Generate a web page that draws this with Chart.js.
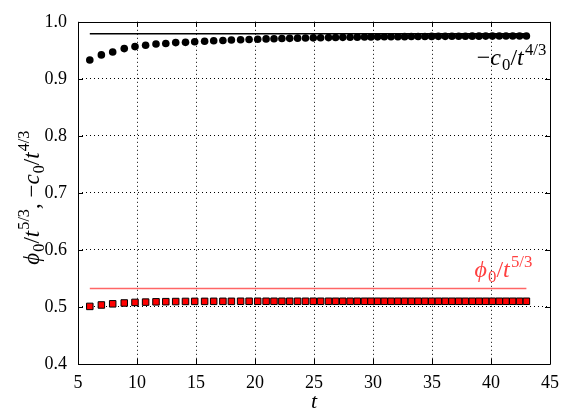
<!DOCTYPE html>
<html>
<head>
<meta charset="utf-8">
<script src="https://cdn.jsdelivr.net/npm/chart.js@4/dist/chart.umd.min.js"></script>
<style>
  body { margin: 0; background: #fff; }
  #wrap { width: 567px; height: 416px; }
</style>
</head>
<body>
<div id="wrap"><canvas id="myChart"></canvas></div>
<script>
// time samples
const tValues = [
  6.0, 6.98, 7.94, 8.92, 9.83, 10.73, 11.61, 12.44, 13.28, 14.11,
  14.89, 15.73, 16.5, 17.28, 18.0, 18.78, 19.5, 20.23, 20.94, 21.61,
  22.28, 22.94, 23.61, 24.28, 24.94, 25.56, 26.23, 26.83, 27.44, 28.06,
  28.67, 29.28, 29.83, 30.39, 30.96, 31.53, 32.11, 32.68, 33.25, 33.82,
  34.4, 34.97, 35.54, 36.12, 36.69, 37.26, 37.83, 38.41, 38.98, 39.55,
  40.12, 40.7, 41.27, 41.84, 42.42, 43.0
];
// -c0 / t^(4/3)
const cValues = [
  0.933, 0.942, 0.947, 0.953, 0.9565, 0.959, 0.961, 0.962, 0.9635, 0.964,
  0.965, 0.966, 0.9667, 0.9673, 0.968, 0.9685, 0.969, 0.9695, 0.970, 0.9703,
  0.9707, 0.971, 0.9713, 0.9716, 0.9719, 0.9721, 0.9723, 0.9725, 0.9727, 0.9729,
  0.9731, 0.9733, 0.9734, 0.9736, 0.9737, 0.9738, 0.9739, 0.974, 0.9741, 0.9742,
  0.9743, 0.9744, 0.9745, 0.9745, 0.9746, 0.9747, 0.9747, 0.9748, 0.9748, 0.9749,
  0.9749, 0.975, 0.975, 0.9751, 0.9751, 0.9752
];
// phi0 / t^(5/3)
const phiValues = [
  0.501, 0.5035, 0.5055, 0.507, 0.508, 0.5085, 0.509, 0.5093, 0.5095, 0.5097,
  0.5098, 0.5098, 0.5099, 0.5099, 0.5099, 0.51, 0.51, 0.51, 0.51, 0.51,
  0.51, 0.51, 0.51, 0.51, 0.51, 0.51, 0.51, 0.51, 0.51, 0.51,
  0.51, 0.51, 0.51, 0.51, 0.51, 0.51, 0.51, 0.51, 0.51, 0.51,
  0.51, 0.51, 0.51, 0.51, 0.51, 0.51, 0.51, 0.51, 0.51, 0.51,
  0.51, 0.51, 0.51, 0.51, 0.51, 0.51
];
// asymptotic reference levels and their extent in t
const refT = [6, 43];
const cLimit = 0.979;
const phiLimit = 0.5325;

const xTicks = [5, 10, 15, 20, 25, 30, 35, 40, 45];
const yTicks = [0.4, 0.5, 0.6, 0.7, 0.8, 0.9, 1.0];

const SERIF = '"Liberation Serif", "DejaVu Serif", serif';

// draw text with italic / sub / sup pieces
function drawRich(ctx, parts, x, y, size, color, align) {
  const fontFor = (p) => {
    const s = (p[1] === 'sub' || p[1] === 'sup') ? size * 0.7 : size;
    const it = (p[1] === 'i') ? 'italic ' : '';
    return it + s + 'px ' + SERIF;
  };
  let total = 0;
  parts.forEach(p => { ctx.font = fontFor(p); total += ctx.measureText(p[0]).width; });
  let cx = align === 'right' ? x - total : (align === 'center' ? x - total / 2 : x);
  ctx.fillStyle = color;
  ctx.textAlign = 'left';
  ctx.textBaseline = 'alphabetic';
  parts.forEach(p => {
    ctx.font = fontFor(p);
    let dy = 0;
    if (p[1] === 'sub') dy = size * 0.22;
    if (p[1] === 'sup') dy = -size * 0.42;
    ctx.fillText(p[0], cx, y + dy);
    cx += ctx.measureText(p[0]).width;
    if (p[1] === 'i') cx += size * 0.05;
  });
}

const framePlugin = {
  id: 'frame',
  afterDraw(chart) {
    const ctx = chart.ctx;
    const a = chart.chartArea;
    const xs = chart.scales.x, ys = chart.scales.y;
    ctx.save();
    ctx.strokeStyle = '#000';
    ctx.lineWidth = 1;
    ctx.beginPath();
    ctx.rect(Math.round(a.left) + 0.5, Math.round(a.top) + 0.5,
             Math.round(a.right - a.left), Math.round(a.bottom - a.top));
    ctx.stroke();
    // inward ticks on all sides
    ctx.beginPath();
    xTicks.forEach(v => {
      const px = Math.round(xs.getPixelForValue(v)) + 0.5;
      ctx.moveTo(px, a.bottom); ctx.lineTo(px, a.bottom - 5);
      ctx.moveTo(px, a.top); ctx.lineTo(px, a.top + 5);
    });
    yTicks.forEach(v => {
      const py = Math.round(ys.getPixelForValue(v)) + 0.5;
      ctx.moveTo(a.left, py); ctx.lineTo(a.left + 5, py);
      ctx.moveTo(a.right, py); ctx.lineTo(a.right - 5, py);
    });
    ctx.stroke();

    // series labels
    drawRich(ctx, [['−', 'n'], ['c', 'i'], ['0', 'sub'], ['/', 'n'], ['t', 'i'], ['4/3', 'sup']],
      a.right - 6, 65, 24, '#000', 'right');
    drawRich(ctx, [['ϕ', 'i'], ['0', 'sub'], ['/', 'n'], ['t', 'i'], ['5/3', 'sup']],
      a.right - 20, 277, 24, '#ff4040', 'right');

    // axis titles
    drawRich(ctx, [['t', 'i']], (a.left + a.right) / 2, 408, 22, '#000', 'center');
    ctx.translate(39, 200);
    ctx.rotate(-Math.PI / 2);
    drawRich(ctx, [['ϕ', 'i'], ['0', 'sub'], ['/', 'n'], ['t', 'i'], ['5/3', 'sup'], [', ', 'n'],
      ['−', 'n'], ['c', 'i'], ['0', 'sub'], ['/', 'n'], ['t', 'i'], ['4/3', 'sup']],
      0, 0, 23, '#000', 'center');
    ctx.restore();
  }
};

const edgeless = (ctx) => {
  const n = ctx.scale.ticks.length;
  return (ctx.index === 0 || ctx.index === n - 1) ? 'rgba(0,0,0,0)' : '#000';
};

new Chart(document.getElementById('myChart'), {
  type: 'scatter',
  data: {
    datasets: [
      {
        label: 'c',
        data: tValues.map((t, i) => ({ x: t, y: cValues[i] })),
        pointStyle: 'circle',
        pointRadius: 3.8,
        backgroundColor: '#000',
        borderWidth: 0
      },
      {
        label: 'phi',
        data: tValues.map((t, i) => ({ x: t, y: phiValues[i] })),
        pointStyle: 'rect',
        pointRadius: 4.6,
        backgroundColor: '#ff0000',
        borderColor: '#000',
        borderWidth: 1
      },
      {
        label: 'c limit',
        data: refT.map(t => ({ x: t, y: cLimit })),
        showLine: true,
        pointRadius: 0,
        borderColor: '#000',
        borderWidth: 1.5
      },
      {
        label: 'phi limit',
        data: refT.map(t => ({ x: t, y: phiLimit })),
        showLine: true,
        pointRadius: 0,
        borderColor: 'rgba(255,0,0,0.6)',
        borderWidth: 1.5
      }
    ]
  },
  options: {
    responsive: true,
    maintainAspectRatio: false,
    animation: false,
    layout: { padding: { top: 14, right: 9, left: 0, bottom: 0 } },
    plugins: { legend: { display: false }, tooltip: { enabled: false } },
    scales: {
      x: {
        type: 'linear',
        min: 5, max: 45,
        afterBuildTicks: (s) => { s.ticks = xTicks.map(v => ({ value: v })); },
        afterFit: (s) => { s.height = 52; },
        ticks: { padding: 8, color: '#000', font: { family: SERIF, size: 18 }, maxRotation: 0 },
        grid: { color: edgeless, lineWidth: 1, drawTicks: false },
        border: { display: false, dash: [1, 3] }
      },
      y: {
        type: 'linear',
        min: 0.4, max: 1.0,
        afterBuildTicks: (s) => { s.ticks = yTicks.map(v => ({ value: v })); },
        afterFit: (s) => { s.width = 78; },
        ticks: { padding: 11, color: '#000', font: { family: SERIF, size: 18 },
                 callback: (v) => Number(v).toFixed(1) },
        grid: { color: edgeless, lineWidth: 1, drawTicks: false },
        border: { display: false, dash: [1, 3] }
      }
    }
  },
  plugins: [framePlugin]
});
</script>
</body>
</html>
